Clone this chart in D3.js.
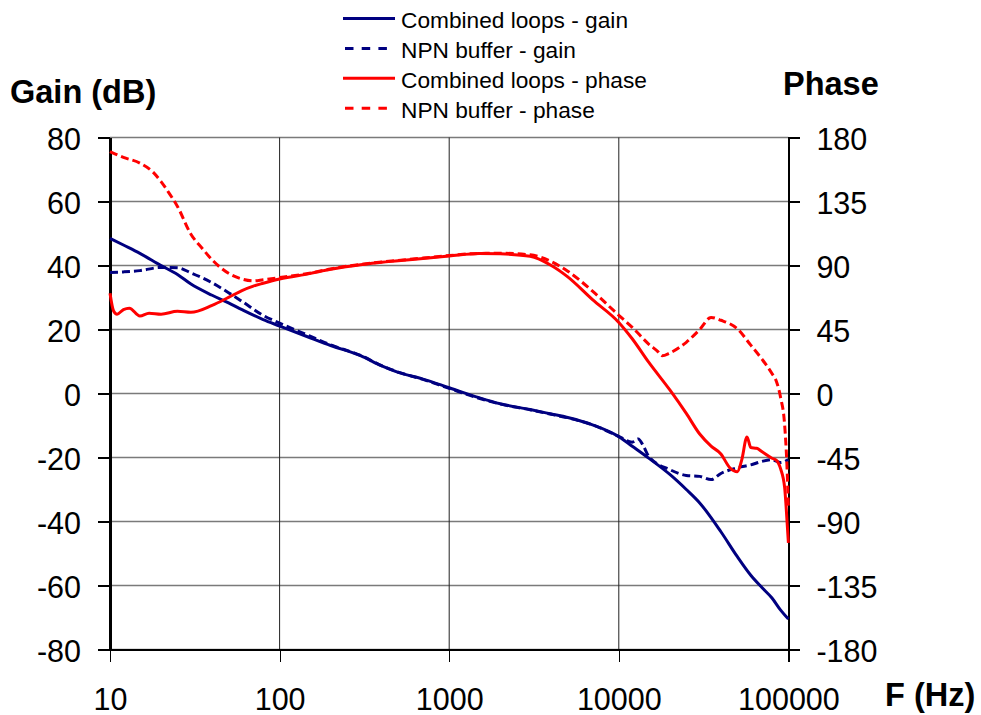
<!DOCTYPE html>
<html>
<head>
<meta charset="utf-8">
<script src="https://cdn.jsdelivr.net/npm/d3@7"></script>
<style>
  html, body { margin: 0; padding: 0; background: #fff; }
  svg { display: block; font-family: Arial, "Liberation Sans", sans-serif; }
</style>
</head>
<body>
<svg id="chart" width="981" height="715"></svg>
<script>
// Frequency axis ticks (Hz) and value axis ticks
const freqTicks = [10, 100, 1000, 10000, 100000];
const gainTicks = [-80, -60, -40, -20, 0, 20, 40, 60, 80];
const phaseTicks = [-180, -135, -90, -45, 0, 45, 90, 135, 180];

// Combined loops - gain (dB)
const combGainFreq = [10, 12, 15, 20, 25, 30, 40, 50, 60, 80, 100, 150, 200, 300, 400, 500, 700, 1000, 1500, 2000, 3000, 4000, 5000, 7000, 10000, 12000, 15000, 20000, 25000, 30000, 40000, 50000, 60000, 70000, 80000, 90000, 100000];
const combGainDb = [48.5, 46.4, 43.8, 40.0, 37.2, 34.2, 30.7, 28.3, 26.2, 23.1, 21.1, 17.5, 15.0, 11.8, 8.6, 6.6, 4.5, 1.8, -1.3, -3.2, -5.0, -6.4, -7.5, -9.8, -13.5, -16.5, -20.2, -25.3, -30.0, -34.2, -43.2, -51.0, -56.8, -60.7, -63.9, -67.7, -70.5];

// NPN buffer - gain (dB)
const npnGainFreq = [10, 12, 15, 20, 25, 30, 40, 50, 60, 80, 100, 150, 200, 300, 400, 500, 700, 1000, 1500, 2000, 3000, 4000, 5000, 7000, 10000, 12000, 13000, 14000, 15000, 20000, 25000, 30000, 35000, 40000, 50000, 60000, 70000, 80000, 90000, 100000];
const npnGainDb = [37.8, 38.0, 38.4, 39.4, 39.3, 37.7, 34.6, 31.5, 28.8, 24.4, 22.0, 18.0, 15.2, 11.9, 8.7, 6.7, 4.4, 1.6, -1.5, -3.3, -5.1, -6.5, -7.6, -9.8, -13.4, -15.2, -14.2, -16.5, -19.6, -23.8, -25.6, -25.9, -26.9, -25.0, -23.2, -22.3, -21.2, -20.7, -21.6, -20.6];

// Combined loops - phase (degrees)
const combPhaseFreq = [10, 10.5, 11, 12, 13, 15, 17, 20, 25, 30, 40, 50, 60, 70, 80, 100, 150, 200, 300, 400, 500, 700, 1000, 1500, 2000, 3000, 4000, 5000, 7000, 10000, 12000, 15000, 20000, 25000, 30000, 35000, 40000, 45000, 50000, 53000, 57000, 60000, 65000, 70000, 80000, 85000, 90000, 95000, 97000, 100000];
const combPhaseDeg = [70.5, 58, 55.7, 59, 60, 54.5, 56.5, 55.8, 57.8, 57.1, 62, 67.6, 72.4, 75.5, 77.5, 80.5, 84.3, 87.3, 90.5, 92.3, 93.3, 95, 96.7, 98.5, 98.2, 96.5, 90, 82, 66, 50, 38.5, 22, 2.5, -14, -28.5, -37, -42.5, -52, -55, -47, -30.5, -38, -38.5, -41, -45.5, -47, -53, -66, -80, -105];

// NPN buffer - phase (degrees)
const npnPhaseFreq = [10, 12, 15, 18, 20, 22, 25, 30, 35, 40, 50, 60, 70, 80, 100, 150, 200, 300, 400, 500, 700, 1000, 1500, 2000, 3000, 4000, 5000, 7000, 10000, 12000, 15000, 17000, 18000, 20000, 25000, 30000, 35000, 40000, 50000, 60000, 70000, 80000, 85000, 90000, 95000, 98000, 100000];
const npnPhaseDeg = [170, 166, 162, 155.5, 149, 142, 131.5, 112, 102, 94, 84.5, 80.5, 79.2, 80, 81.5, 84.6, 87.6, 90.8, 92.5, 93.6, 95.2, 97, 98.5, 98.6, 97.5, 92.7, 86, 72, 55, 46.5, 34.8, 29.5, 26.5, 28.5, 36, 45, 53.5, 51.5, 45.5, 34, 24, 14, 8.5, -3, -22, -50, -80];

const seriesNames = ["Combined loops - gain", "NPN buffer - gain", "Combined loops - phase", "NPN buffer - phase"];

const svg = d3.select("#chart");

const plotLeft = 110, plotRight = 788.4, plotTop = 137.5, plotBottom = 649.5;

const x = d3.scaleLog().domain([10, 100000]).range([plotLeft, plotRight]);
const yGain = d3.scaleLinear().domain([-80, 80]).range([plotBottom, plotTop]);
const yPhase = d3.scaleLinear().domain([-180, 180]).range([plotBottom, plotTop]);

// Plain hyphen-minus labels
const plainFormat = d => String(d);

// Horizontal grid
svg.append("g")
  .selectAll("line")
  .data(gainTicks)
  .join("line")
  .attr("x1", plotLeft).attr("x2", plotRight)
  .attr("y1", d => yGain(d)).attr("y2", d => yGain(d))
  .attr("stroke", "#7a7a7a")
  .attr("stroke-width", 1.4);

// Vertical grid at the decades
svg.append("g")
  .selectAll("line")
  .data(freqTicks.slice(1, -1))
  .join("line")
  .attr("x1", d => x(d)).attr("x2", d => x(d))
  .attr("y1", plotTop).attr("y2", plotBottom)
  .attr("stroke", "#222")
  .attr("stroke-width", 1);

// Bottom frequency axis
const xAxis = svg.append("g")
  .attr("transform", `translate(0,${plotBottom})`)
  .call(d3.axisBottom(x).tickValues(freqTicks).tickFormat(plainFormat).tickSize(12).tickSizeOuter(0));
xAxis.select(".domain").attr("stroke", "#000").attr("stroke-width", 1.2);
xAxis.selectAll(".tick line").attr("stroke", "#000").attr("stroke-width", 1.2);
xAxis.selectAll("text")
  .attr("y", 60).attr("dy", 0)
  .attr("font-size", 30.5).attr("fill", "#000");

// Left gain axis
const yAxisL = svg.append("g")
  .attr("transform", `translate(${plotLeft},0)`)
  .call(d3.axisLeft(yGain).tickValues(gainTicks).tickFormat(plainFormat).tickSize(12).tickSizeOuter(0));
yAxisL.select(".domain").attr("stroke", "#000").attr("stroke-width", 2.2);
yAxisL.selectAll(".tick line").attr("stroke", "#000").attr("stroke-width", 1.6);
yAxisL.selectAll("text")
  .attr("x", -29).attr("dy", "0.38em")
  .attr("font-size", 30.5).attr("fill", "#000");

// Right phase axis
const yAxisR = svg.append("g")
  .attr("transform", `translate(${plotRight},0)`)
  .call(d3.axisRight(yPhase).tickValues(phaseTicks).tickFormat(plainFormat).tickSize(12).tickSizeOuter(0));
yAxisR.select(".domain").attr("stroke", "#000").attr("stroke-width", 2.2);
yAxisR.selectAll(".tick line").attr("stroke", "#000").attr("stroke-width", 1.6);
yAxisR.selectAll("text")
  .attr("x", 28).attr("dy", "0.38em")
  .attr("font-size", 30.5).attr("fill", "#000");

svg.selectAll(".domain, .tick line").attr("shape-rendering", "crispEdges");

// Curves
const gainLine = d3.line().x(d => x(d[0])).y(d => yGain(d[1])).curve(d3.curveMonotoneX);
const phaseLine = d3.line().x(d => x(d[0])).y(d => yPhase(d[1])).curve(d3.curveMonotoneX);

const zip = (a, b) => a.map((f, i) => [f, b[i]]);

const series = [
  { d: gainLine(zip(combGainFreq, combGainDb)), color: "#000080", dash: null },
  { d: gainLine(zip(npnGainFreq, npnGainDb)), color: "#000080", dash: "8,4" },
  { d: phaseLine(zip(combPhaseFreq, combPhaseDeg)), color: "#ff0000", dash: null },
  { d: phaseLine(zip(npnPhaseFreq, npnPhaseDeg)), color: "#ff0000", dash: "8,4" }
];

svg.append("g")
  .selectAll("path")
  .data(series)
  .join("path")
  .attr("d", s => s.d)
  .attr("fill", "none")
  .attr("stroke", s => s.color)
  .attr("stroke-width", 3)
  .attr("stroke-linejoin", "round")
  .attr("stroke-dasharray", s => s.dash);

// Legend
const legend = svg.append("g");
const legendY = i => 18.5 + i * 29.9;
legend.selectAll("line")
  .data(series)
  .join("line")
  .attr("x1", (s) => s.dash ? 345 : 343)
  .attr("x2", 395)
  .attr("y1", (s, i) => legendY(i))
  .attr("y2", (s, i) => legendY(i))
  .attr("stroke", s => s.color)
  .attr("stroke-width", 3)
  .attr("stroke-dasharray", s => s.dash ? "8.5,8.2" : null);
legend.selectAll("text")
  .data(seriesNames)
  .join("text")
  .attr("x", 401)
  .attr("y", (d, i) => legendY(i) + 9.5)
  .attr("font-size", 22.7)
  .attr("fill", "#000")
  .text(d => d);

// Axis titles
svg.append("text").attr("x", 10).attr("y", 103)
  .attr("font-size", 32.5).attr("font-weight", "bold").text("Gain (dB)");
svg.append("text").attr("x", 783).attr("y", 95)
  .attr("font-size", 32.5).attr("font-weight", "bold").text("Phase");
svg.append("text").attr("x", 885).attr("y", 706)
  .attr("font-size", 32.5).attr("font-weight", "bold").text("F (Hz)");
</script>
</body>
</html>
